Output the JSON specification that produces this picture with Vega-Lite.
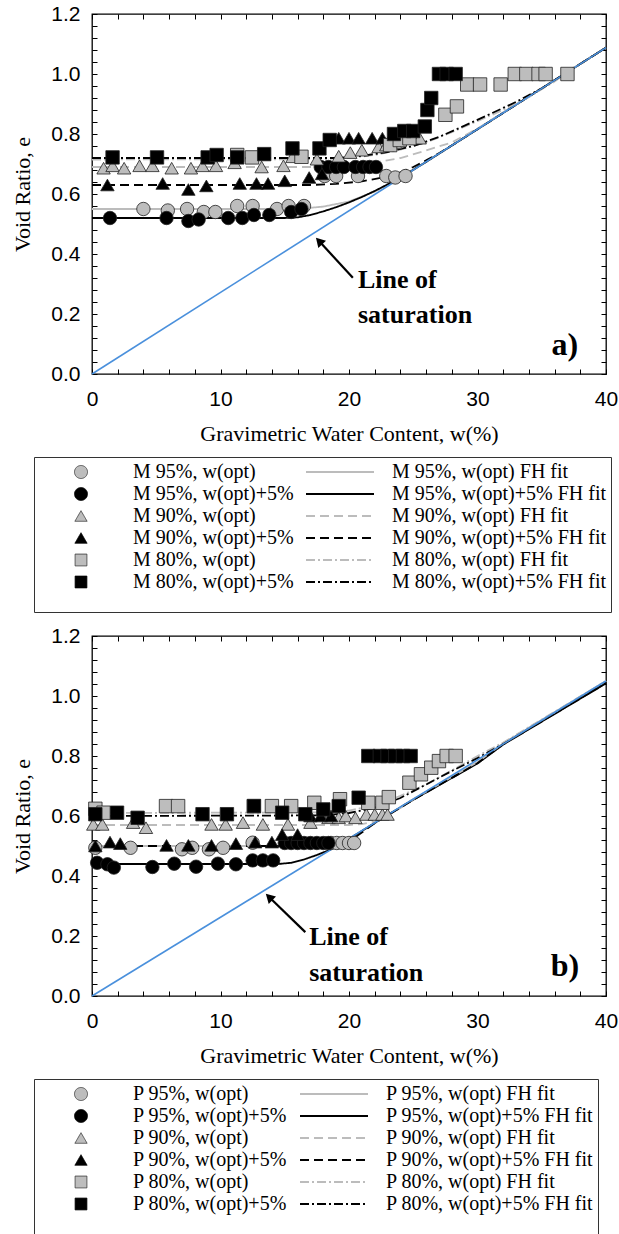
{
"$schema": "https://vega.github.io/schema/vega-lite/v6.json",
"padding": {"left": 11, "top": 2, "right": 0, "bottom": 0},
"spacing": 11,
"columns": 1,
"align": "none",
"datasets": {
"sat_a": [{"w":0,"e":0},{"w":40,"e":1.088}],
"sat_b": [{"w":0,"e":0},{"w":40,"e":1.05}],
"fit_a": [
{"s":"95 opt","w":0,"e":0.55},{"s":"95 opt","w":16,"e":0.55},{"s":"95 opt","w":18,"e":0.558},{"s":"95 opt","w":20,"e":0.575},{"s":"95 opt","w":22,"e":0.608},{"s":"95 opt","w":24,"e":0.652},{"s":"95 opt","w":26,"e":0.707},{"s":"95 opt","w":30,"e":0.816},{"s":"95 opt","w":40,"e":1.088},
{"s":"95 opt+5","w":0,"e":0.52},{"s":"95 opt+5","w":15,"e":0.52},{"s":"95 opt+5","w":16,"e":0.522},{"s":"95 opt+5","w":17,"e":0.53},{"s":"95 opt+5","w":18,"e":0.542},{"s":"95 opt+5","w":19,"e":0.556},{"s":"95 opt+5","w":20,"e":0.572},{"s":"95 opt+5","w":21,"e":0.59},{"s":"95 opt+5","w":22,"e":0.61},{"s":"95 opt+5","w":23,"e":0.632},{"s":"95 opt+5","w":24,"e":0.655},{"s":"95 opt+5","w":26,"e":0.707},{"s":"95 opt+5","w":30,"e":0.816},{"s":"95 opt+5","w":40,"e":1.088},
{"s":"90 opt","w":0,"e":0.69},{"s":"90 opt","w":18,"e":0.69},{"s":"90 opt","w":20,"e":0.695},{"s":"90 opt","w":22,"e":0.705},{"s":"90 opt","w":24,"e":0.72},{"s":"90 opt","w":26,"e":0.745},{"s":"90 opt","w":28,"e":0.772},{"s":"90 opt","w":30,"e":0.818},{"s":"90 opt","w":40,"e":1.088},
{"s":"90 opt+5","w":0,"e":0.63},{"s":"90 opt+5","w":17,"e":0.63},{"s":"90 opt+5","w":19,"e":0.634},{"s":"90 opt+5","w":21,"e":0.642},{"s":"90 opt+5","w":23,"e":0.658},{"s":"90 opt+5","w":24,"e":0.672},{"s":"90 opt+5","w":25,"e":0.69},{"s":"90 opt+5","w":26,"e":0.712},{"s":"90 opt+5","w":27,"e":0.736},{"s":"90 opt+5","w":28,"e":0.762},{"s":"90 opt+5","w":30,"e":0.816},{"s":"90 opt+5","w":40,"e":1.088},
{"s":"80 opt","w":0,"e":0.715},{"s":"80 opt","w":18,"e":0.716},{"s":"80 opt","w":20,"e":0.72},{"s":"80 opt","w":22,"e":0.73},{"s":"80 opt","w":24,"e":0.748},{"s":"80 opt","w":26,"e":0.772},{"s":"80 opt","w":28,"e":0.806},{"s":"80 opt","w":30,"e":0.843},{"s":"80 opt","w":32,"e":0.88},{"s":"80 opt","w":34,"e":0.923},{"s":"80 opt","w":36,"e":0.975},{"s":"80 opt","w":37,"e":1.006},{"s":"80 opt","w":40,"e":1.088},
{"s":"80 opt+5","w":0,"e":0.72},{"s":"80 opt+5","w":19,"e":0.72},{"s":"80 opt+5","w":21,"e":0.727},{"s":"80 opt+5","w":23,"e":0.74},{"s":"80 opt+5","w":25,"e":0.76},{"s":"80 opt+5","w":27,"e":0.79},{"s":"80 opt+5","w":29,"e":0.828},{"s":"80 opt+5","w":31,"e":0.867},{"s":"80 opt+5","w":33,"e":0.907},{"s":"80 opt+5","w":35,"e":0.952},{"s":"80 opt+5","w":36.5,"e":0.993},{"s":"80 opt+5","w":40,"e":1.088}
],
"fit_b": [
{"s":"95 opt","w":0,"e":0.5},{"s":"95 opt","w":17.5,"e":0.5},{"s":"95 opt","w":18.5,"e":0.503},{"s":"95 opt","w":19.5,"e":0.513},{"s":"95 opt","w":20.5,"e":0.537},{"s":"95 opt","w":22.5,"e":0.59},{"s":"95 opt","w":25,"e":0.656},{"s":"95 opt","w":30,"e":0.78},{"s":"95 opt","w":32,"e":0.842},{"s":"95 opt","w":40,"e":1.05},
{"s":"95 opt+5","w":0,"e":0.44},{"s":"95 opt+5","w":14.5,"e":0.44},{"s":"95 opt+5","w":15.5,"e":0.444},{"s":"95 opt+5","w":16.5,"e":0.455},{"s":"95 opt+5","w":17.5,"e":0.47},{"s":"95 opt+5","w":18.5,"e":0.487},{"s":"95 opt+5","w":19.5,"e":0.51},{"s":"95 opt+5","w":21,"e":0.55},{"s":"95 opt+5","w":22.5,"e":0.59},{"s":"95 opt+5","w":25,"e":0.654},{"s":"95 opt+5","w":30,"e":0.775},{"s":"95 opt+5","w":32,"e":0.838},{"s":"95 opt+5","w":40,"e":1.042},
{"s":"90 opt","w":0,"e":0.57},{"s":"90 opt","w":20,"e":0.57},{"s":"90 opt","w":21,"e":0.573},{"s":"90 opt","w":22,"e":0.582},{"s":"90 opt","w":23,"e":0.602},{"s":"90 opt","w":24,"e":0.627},{"s":"90 opt","w":25,"e":0.656},{"s":"90 opt","w":30,"e":0.78},{"s":"90 opt","w":32,"e":0.842},{"s":"90 opt","w":40,"e":1.05},
{"s":"90 opt+5","w":0,"e":0.5},{"s":"90 opt+5","w":18,"e":0.5},{"s":"90 opt+5","w":19,"e":0.503},{"s":"90 opt+5","w":20,"e":0.515},{"s":"90 opt+5","w":21,"e":0.545},{"s":"90 opt+5","w":22,"e":0.576},{"s":"90 opt+5","w":25,"e":0.654},{"s":"90 opt+5","w":30,"e":0.776},{"s":"90 opt+5","w":32,"e":0.84},{"s":"90 opt+5","w":40,"e":1.043},
{"s":"80 opt","w":0,"e":0.61},{"s":"80 opt","w":18,"e":0.612},{"s":"80 opt","w":20,"e":0.618},{"s":"80 opt","w":22,"e":0.636},{"s":"80 opt","w":24,"e":0.667},{"s":"80 opt","w":26,"e":0.705},{"s":"80 opt","w":28,"e":0.752},{"s":"80 opt","w":30,"e":0.8},{"s":"80 opt","w":32,"e":0.845},{"s":"80 opt","w":40,"e":1.05},
{"s":"80 opt+5","w":0,"e":0.6},{"s":"80 opt+5","w":18,"e":0.602},{"s":"80 opt+5","w":20,"e":0.61},{"s":"80 opt+5","w":22,"e":0.627},{"s":"80 opt+5","w":24,"e":0.66},{"s":"80 opt+5","w":26,"e":0.705},{"s":"80 opt+5","w":28,"e":0.75},{"s":"80 opt+5","w":30,"e":0.793},{"s":"80 opt+5","w":32,"e":0.84},{"s":"80 opt+5","w":40,"e":1.045}
],
"pts_a": [
{"s":"95 opt","w":4.0,"e":0.55},{"s":"95 opt","w":5.9,"e":0.545},{"s":"95 opt","w":7.4,"e":0.55},{"s":"95 opt","w":8.7,"e":0.54},{"s":"95 opt","w":9.6,"e":0.54},{"s":"95 opt","w":11.3,"e":0.56},{"s":"95 opt","w":12.5,"e":0.56},{"s":"95 opt","w":14.4,"e":0.55},{"s":"95 opt","w":15.3,"e":0.56},{"s":"95 opt","w":16.5,"e":0.56},{"s":"95 opt","w":18.1,"e":0.66},{"s":"95 opt","w":19.0,"e":0.66},{"s":"95 opt","w":20.7,"e":0.66},{"s":"95 opt","w":22.9,"e":0.66},{"s":"95 opt","w":23.6,"e":0.655},{"s":"95 opt","w":24.4,"e":0.66},
{"s":"95 opt+5","w":1.4,"e":0.52},{"s":"95 opt+5","w":5.8,"e":0.52},{"s":"95 opt+5","w":7.5,"e":0.51},{"s":"95 opt+5","w":8.3,"e":0.515},{"s":"95 opt+5","w":10.6,"e":0.52},{"s":"95 opt+5","w":11.7,"e":0.52},{"s":"95 opt+5","w":12.6,"e":0.53},{"s":"95 opt+5","w":13.8,"e":0.53},{"s":"95 opt+5","w":15.5,"e":0.54},{"s":"95 opt+5","w":16.3,"e":0.55},{"s":"95 opt+5","w":17.8,"e":0.69},{"s":"95 opt+5","w":18.4,"e":0.69},{"s":"95 opt+5","w":19.0,"e":0.69},{"s":"95 opt+5","w":19.6,"e":0.69},{"s":"95 opt+5","w":20.5,"e":0.69},{"s":"95 opt+5","w":21.1,"e":0.69},{"s":"95 opt+5","w":21.6,"e":0.69},{"s":"95 opt+5","w":22.1,"e":0.69},
{"s":"90 opt","w":0.9,"e":0.686},{"s":"90 opt","w":1.6,"e":0.694},{"s":"90 opt","w":2.5,"e":0.686},{"s":"90 opt","w":3.7,"e":0.694},{"s":"90 opt","w":4.7,"e":0.694},{"s":"90 opt","w":6.2,"e":0.686},{"s":"90 opt","w":7.7,"e":0.686},{"s":"90 opt","w":8.6,"e":0.694},{"s":"90 opt","w":9.65,"e":0.694},{"s":"90 opt","w":11.1,"e":0.704},{"s":"90 opt","w":13.2,"e":0.69},{"s":"90 opt","w":14.9,"e":0.694},{"s":"90 opt","w":15.6,"e":0.724},{"s":"90 opt","w":17.5,"e":0.716},{"s":"90 opt","w":19.2,"e":0.726},{"s":"90 opt","w":20.1,"e":0.738},{"s":"90 opt","w":21.0,"e":0.746},{"s":"90 opt","w":22.3,"e":0.757},{"s":"90 opt","w":22.9,"e":0.763},{"s":"90 opt","w":23.6,"e":0.77},{"s":"90 opt","w":24.6,"e":0.786},{"s":"90 opt","w":25.2,"e":0.786},{"s":"90 opt","w":25.5,"e":0.786},
{"s":"90 opt+5","w":1.2,"e":0.63},{"s":"90 opt+5","w":5.5,"e":0.635},{"s":"90 opt+5","w":7.5,"e":0.615},{"s":"90 opt+5","w":8.9,"e":0.627},{"s":"90 opt+5","w":11.5,"e":0.635},{"s":"90 opt+5","w":12.8,"e":0.635},{"s":"90 opt+5","w":13.7,"e":0.635},{"s":"90 opt+5","w":15.0,"e":0.644},{"s":"90 opt+5","w":16.9,"e":0.655},{"s":"90 opt+5","w":17.9,"e":0.667},{"s":"90 opt+5","w":19.2,"e":0.786},{"s":"90 opt+5","w":20.0,"e":0.786},{"s":"90 opt+5","w":20.75,"e":0.786},{"s":"90 opt+5","w":21.8,"e":0.786},{"s":"90 opt+5","w":22.6,"e":0.786},{"s":"90 opt+5","w":23.3,"e":0.79},
{"s":"80 opt","w":11.3,"e":0.73},{"s":"80 opt","w":12.45,"e":0.722},{"s":"80 opt","w":16.3,"e":0.724},{"s":"80 opt","w":23.2,"e":0.763},{"s":"80 opt","w":23.95,"e":0.78},{"s":"80 opt","w":24.7,"e":0.786},{"s":"80 opt","w":27.5,"e":0.864},{"s":"80 opt","w":28.4,"e":0.892},{"s":"80 opt","w":29.2,"e":0.965},{"s":"80 opt","w":30.2,"e":0.965},{"s":"80 opt","w":31.8,"e":0.965},{"s":"80 opt","w":32.9,"e":1.0},{"s":"80 opt","w":33.8,"e":1.0},{"s":"80 opt","w":34.75,"e":1.0},{"s":"80 opt","w":35.3,"e":1.0},{"s":"80 opt","w":37.0,"e":1.0},
{"s":"80 opt+5","w":1.6,"e":0.722},{"s":"80 opt+5","w":5.06,"e":0.722},{"s":"80 opt+5","w":9.0,"e":0.722},{"s":"80 opt+5","w":9.7,"e":0.73},{"s":"80 opt+5","w":11.3,"e":0.722},{"s":"80 opt+5","w":13.4,"e":0.733},{"s":"80 opt+5","w":15.6,"e":0.752},{"s":"80 opt+5","w":17.7,"e":0.752},{"s":"80 opt+5","w":18.5,"e":0.78},{"s":"80 opt+5","w":23.5,"e":0.8},{"s":"80 opt+5","w":24.3,"e":0.81},{"s":"80 opt+5","w":25.0,"e":0.81},{"s":"80 opt+5","w":25.9,"e":0.825},{"s":"80 opt+5","w":26.1,"e":0.88},{"s":"80 opt+5","w":26.4,"e":0.92},{"s":"80 opt+5","w":27.0,"e":1.0},{"s":"80 opt+5","w":27.6,"e":1.0},{"s":"80 opt+5","w":28.3,"e":1.0}
],
"pts_b": [
{"s":"95 opt","w":0.26,"e":0.494},{"s":"95 opt","w":3.0,"e":0.494},{"s":"95 opt","w":7.0,"e":0.489},{"s":"95 opt","w":7.8,"e":0.494},{"s":"95 opt","w":9.1,"e":0.489},{"s":"95 opt","w":10.2,"e":0.494},{"s":"95 opt","w":12.5,"e":0.511},{"s":"95 opt","w":18.6,"e":0.51},{"s":"95 opt","w":19.05,"e":0.51},{"s":"95 opt","w":19.5,"e":0.51},{"s":"95 opt","w":20.0,"e":0.51},{"s":"95 opt","w":20.4,"e":0.51},
{"s":"95 opt+5","w":0.4,"e":0.444},{"s":"95 opt+5","w":1.2,"e":0.439},{"s":"95 opt+5","w":1.7,"e":0.428},{"s":"95 opt+5","w":4.7,"e":0.43},{"s":"95 opt+5","w":6.4,"e":0.441},{"s":"95 opt+5","w":8.1,"e":0.431},{"s":"95 opt+5","w":9.8,"e":0.441},{"s":"95 opt+5","w":11.2,"e":0.439},{"s":"95 opt+5","w":12.5,"e":0.452},{"s":"95 opt+5","w":13.3,"e":0.452},{"s":"95 opt+5","w":14.1,"e":0.452},{"s":"95 opt+5","w":15.0,"e":0.51},{"s":"95 opt+5","w":15.5,"e":0.51},{"s":"95 opt+5","w":16.0,"e":0.51},{"s":"95 opt+5","w":16.5,"e":0.51},{"s":"95 opt+5","w":17.0,"e":0.51},{"s":"95 opt+5","w":17.5,"e":0.51},{"s":"95 opt+5","w":18.0,"e":0.51},{"s":"95 opt+5","w":18.4,"e":0.51},
{"s":"90 opt","w":0.1,"e":0.572},{"s":"90 opt","w":0.8,"e":0.572},{"s":"90 opt","w":3.2,"e":0.578},{"s":"90 opt","w":4.2,"e":0.561},{"s":"90 opt","w":9.3,"e":0.572},{"s":"90 opt","w":10.4,"e":0.572},{"s":"90 opt","w":11.75,"e":0.578},{"s":"90 opt","w":13.3,"e":0.572},{"s":"90 opt","w":15.25,"e":0.572},{"s":"90 opt","w":17.0,"e":0.578},{"s":"90 opt","w":18.4,"e":0.594},{"s":"90 opt","w":19.2,"e":0.594},{"s":"90 opt","w":19.75,"e":0.6},{"s":"90 opt","w":20.5,"e":0.594},{"s":"90 opt","w":21.35,"e":0.605},{"s":"90 opt","w":22.0,"e":0.605},{"s":"90 opt","w":22.6,"e":0.605},{"s":"90 opt","w":23.0,"e":0.605},
{"s":"90 opt+5","w":0.26,"e":0.5},{"s":"90 opt+5","w":1.4,"e":0.513},{"s":"90 opt+5","w":2.2,"e":0.508},{"s":"90 opt+5","w":5.8,"e":0.502},{"s":"90 opt+5","w":7.5,"e":0.502},{"s":"90 opt+5","w":9.3,"e":0.502},{"s":"90 opt+5","w":11.2,"e":0.508},{"s":"90 opt+5","w":12.7,"e":0.513},{"s":"90 opt+5","w":14.0,"e":0.513},{"s":"90 opt+5","w":14.8,"e":0.538},{"s":"90 opt+5","w":16.0,"e":0.538},{"s":"90 opt+5","w":17.0,"e":0.6},{"s":"90 opt+5","w":17.8,"e":0.6},{"s":"90 opt+5","w":18.6,"e":0.6},
{"s":"80 opt","w":0.26,"e":0.624},{"s":"80 opt","w":0.9,"e":0.611},{"s":"80 opt","w":5.76,"e":0.633},{"s":"80 opt","w":6.7,"e":0.633},{"s":"80 opt","w":12.6,"e":0.633},{"s":"80 opt","w":14.0,"e":0.633},{"s":"80 opt","w":15.5,"e":0.633},{"s":"80 opt","w":17.3,"e":0.644},{"s":"80 opt","w":19.3,"e":0.656},{"s":"80 opt","w":21.5,"e":0.644},{"s":"80 opt","w":22.6,"e":0.644},{"s":"80 opt","w":23.1,"e":0.663},{"s":"80 opt","w":24.7,"e":0.711},{"s":"80 opt","w":25.6,"e":0.739},{"s":"80 opt","w":26.4,"e":0.761},{"s":"80 opt","w":27.0,"e":0.783},{"s":"80 opt","w":27.6,"e":0.8},{"s":"80 opt","w":28.3,"e":0.8},
{"s":"80 opt+5","w":0.26,"e":0.606},{"s":"80 opt+5","w":1.95,"e":0.611},{"s":"80 opt+5","w":3.55,"e":0.594},{"s":"80 opt+5","w":8.6,"e":0.606},{"s":"80 opt+5","w":10.5,"e":0.606},{"s":"80 opt+5","w":12.6,"e":0.633},{"s":"80 opt+5","w":14.8,"e":0.611},{"s":"80 opt+5","w":16.6,"e":0.606},{"s":"80 opt+5","w":18.0,"e":0.622},{"s":"80 opt+5","w":19.2,"e":0.633},{"s":"80 opt+5","w":20.75,"e":0.661},{"s":"80 opt+5","w":21.5,"e":0.8},{"s":"80 opt+5","w":22.4,"e":0.8},{"s":"80 opt+5","w":23.0,"e":0.8},{"s":"80 opt+5","w":23.6,"e":0.8},{"s":"80 opt+5","w":24.2,"e":0.8},{"s":"80 opt+5","w":24.8,"e":0.8}
],
"arrow_a": [{"w":20.3,"e":0.321},{"w":17.67,"e":0.443}],
"arrow_b": [{"w":16.6,"e":0.213},{"w":13.78,"e":0.33}],
"lab_a": [{"t":"Line of","w":20.7,"e":0.314},{"t":"saturation","w":20.7,"e":0.197}],
"lab_b": [{"t":"Line of","w":16.9,"e":0.197},{"t":"saturation","w":16.9,"e":0.078}],
"tag_a": [{"t":"a)","w":36.8,"e":0.097}],
"tag_b": [{"t":"b)","w":36.8,"e":0.1}],
"leg_a": [{"label":"M 95%, w(opt)"},{"label":"M 95%, w(opt)+5%"},{"label":"M 90%, w(opt)"},{"label":"M 90%, w(opt)+5%"},{"label":"M 80%, w(opt)"},{"label":"M 80%, w(opt)+5%"},{"label":"M 95%, w(opt) FH fit"},{"label":"M 95%, w(opt)+5% FH fit"},{"label":"M 90%, w(opt) FH fit"},{"label":"M 90%, w(opt)+5% FH fit"},{"label":"M 80%, w(opt) FH fit"},{"label":"M 80%, w(opt)+5% FH fit"}],
"leg_b": [{"label":"P 95%, w(opt)"},{"label":"P 95%, w(opt)+5%"},{"label":"P 90%, w(opt)"},{"label":"P 90%, w(opt)+5%"},{"label":"P 80%, w(opt)"},{"label":"P 80%, w(opt)+5%"},{"label":"P 95%, w(opt) FH fit"},{"label":"P 95%, w(opt)+5% FH fit"},{"label":"P 90%, w(opt) FH fit"},{"label":"P 90%, w(opt)+5% FH fit"},{"label":"P 80%, w(opt) FH fit"},{"label":"P 80%, w(opt)+5% FH fit"}]
},
"resolve": {
"scale": {"shape":"independent","fill":"independent","stroke":"independent","strokeDash":"independent","size":"independent","strokeWidth":"independent"},
"legend": {"shape":"independent","fill":"independent","stroke":"independent","strokeDash":"independent","size":"independent","strokeWidth":"independent"}
},
"concat": [
{
"width": 514, "height": 360,
"resolve": {"axis": {"x": "independent", "y": "independent"}},
"encoding": {
"x": {"field": "w", "type": "quantitative", "scale": {"domain": [0, 40], "nice": false}, "axis": null},
"y": {"field": "e", "type": "quantitative", "scale": {"domain": [0, 1.2], "nice": false}, "axis": null}
},
"layer": [
{"data": {"name": "fit_a"}, "mark": {"type": "line", "strokeWidth": 1.8},
"encoding": {
"x": {"field": "w", "type": "quantitative", "scale": {"domain": [0, 40], "nice": false},
"axis": {"orient": "bottom", "values": [0,2,4,6,8,10,12,14,16,18,20,22,24,26,28,30,32,34,36,38,40], "labelExpr": "datum.value % 10 === 0 ? datum.label : ''", "labelOverlap": false, "labelFlush": false, "tickSize": -5, "labelPadding": 19, "title": "Gravimetric Water Content, w(%)", "titlePadding": 14}},
"y": {"field": "e", "type": "quantitative", "scale": {"domain": [0, 1.2], "nice": false},
"axis": {"orient": "left", "values": [0,0.04,0.08,0.12,0.16,0.2,0.24,0.28,0.32,0.36,0.4,0.44,0.48,0.52,0.56,0.6,0.64,0.68,0.72,0.76,0.8,0.84,0.88,0.92,0.96,1,1.04,1.08,1.12,1.16,1.2], "labelExpr": "abs(round(datum.value*100) % 20) < 0.5 ? format(datum.value, '.1f') : ''", "labelOverlap": false, "labelFlush": false, "tickSize": -5, "labelPadding": 17, "title": "Void Ratio, e", "titlePadding": 16}},
"stroke": {"field": "s", "type": "nominal", "legend": null, "scale": {"domain": ["95 opt","95 opt+5","90 opt","90 opt+5","80 opt","80 opt+5"], "range": ["#bcbcbc","#000000","#bcbcbc","#000000","#bcbcbc","#000000"]}},
"strokeDash": {"field": "s", "type": "nominal", "legend": null, "scale": {"domain": ["95 opt","95 opt+5","90 opt","90 opt+5","80 opt","80 opt+5"], "range": [[1,0],[1,0],[9,5],[9,5],[9,3,2,3],[9,3,2,3]]}}
}},
{"data": {"name": "sat_a"}, "mark": {"type": "line", "color": "#4a90dc", "strokeWidth": 1.6},
"encoding": {
"x": {"field": "w", "type": "quantitative", "scale": {"domain": [0, 40], "nice": false},
"axis": {"orient": "top", "values": [0,2,4,6,8,10,12,14,16,18,20,22,24,26,28,30,32,34,36,38,40], "labels": false, "tickSize": -5, "title": null}},
"y": {"field": "e", "type": "quantitative", "scale": {"domain": [0, 1.2], "nice": false},
"axis": {"orient": "right", "values": [0,0.04,0.08,0.12,0.16,0.2,0.24,0.28,0.32,0.36,0.4,0.44,0.48,0.52,0.56,0.6,0.64,0.68,0.72,0.76,0.8,0.84,0.88,0.92,0.96,1,1.04,1.08,1.12,1.16,1.2], "labels": false, "tickSize": -5, "title": null}}
}},
{"data": {"name": "pts_a"}, "mark": {"type": "point", "filled": true, "opacity": 1, "size": 180, "stroke": "#222222", "strokeWidth": 0.8},
"encoding": {
"shape": {"field": "s", "type": "nominal", "legend": null, "scale": {"domain": ["95 opt","95 opt+5","90 opt","90 opt+5","80 opt","80 opt+5"], "range": ["circle","circle","triangle-up","triangle-up","square","square"]}},
"fill": {"field": "s", "type": "nominal", "legend": null, "scale": {"domain": ["95 opt","95 opt+5","90 opt","90 opt+5","80 opt","80 opt+5"], "range": ["#bdbdbd","#000000","#bdbdbd","#000000","#bdbdbd","#000000"]}}
}},
{"data": {"name": "arrow_a"}, "mark": {"type": "line", "color": "black", "strokeWidth": 2.2}, "encoding": {}},
{"data": {"name": "arrow_a"}, "transform": [{"filter": "datum.w < 19"}], "mark": {"type": "point", "shape": "triangle-up", "filled": true, "color": "black", "opacity": 1, "size": 110, "angle": 317}, "encoding": {}},
{"data": {"name": "lab_a"}, "mark": {"type": "text", "font": "Liberation Serif", "fontWeight": "bold", "fontSize": 26, "align": "left", "baseline": "middle", "color": "black"}, "encoding": {"text": {"field": "t"}}},
{"data": {"name": "tag_a"}, "mark": {"type": "text", "font": "Liberation Serif", "fontWeight": "bold", "fontSize": 32, "align": "center", "baseline": "middle", "color": "black"}, "encoding": {"text": {"field": "t"}}}
]
},
{
"width": 514, "height": 155,
"view": {"stroke": null},
"data": {"name": "leg_a"},
"mark": {"type": "point", "filled": true, "opacity": 0},
"encoding": {
"shape": {"field": "label", "type": "nominal", "legend": {"title": " "}, "scale": {"domain": ["M 95%, w(opt)","M 95%, w(opt)+5%","M 90%, w(opt)","M 90%, w(opt)+5%","M 80%, w(opt)","M 80%, w(opt)+5%","M 95%, w(opt) FH fit","M 95%, w(opt)+5% FH fit","M 90%, w(opt) FH fit","M 90%, w(opt)+5% FH fit","M 80%, w(opt) FH fit","M 80%, w(opt)+5% FH fit"], "range": ["circle","circle","triangle-up","triangle-up","square","square","stroke","stroke","stroke","stroke","stroke","stroke"]}},
"fill": {"field": "label", "type": "nominal", "legend": {"title": " "}, "scale": {"domain": ["M 95%, w(opt)","M 95%, w(opt)+5%","M 90%, w(opt)","M 90%, w(opt)+5%","M 80%, w(opt)","M 80%, w(opt)+5%","M 95%, w(opt) FH fit","M 95%, w(opt)+5% FH fit","M 90%, w(opt) FH fit","M 90%, w(opt)+5% FH fit","M 80%, w(opt) FH fit","M 80%, w(opt)+5% FH fit"], "range": ["#bdbdbd","#000000","#bdbdbd","#000000","#bdbdbd","#000000","transparent","transparent","transparent","transparent","transparent","transparent"]}},
"stroke": {"field": "label", "type": "nominal", "legend": {"title": " "}, "scale": {"domain": ["M 95%, w(opt)","M 95%, w(opt)+5%","M 90%, w(opt)","M 90%, w(opt)+5%","M 80%, w(opt)","M 80%, w(opt)+5%","M 95%, w(opt) FH fit","M 95%, w(opt)+5% FH fit","M 90%, w(opt) FH fit","M 90%, w(opt)+5% FH fit","M 80%, w(opt) FH fit","M 80%, w(opt)+5% FH fit"], "range": ["#333333","#000000","#333333","#000000","#333333","#000000","#bcbcbc","#000000","#bcbcbc","#000000","#bcbcbc","#000000"]}},
"strokeDash": {"field": "label", "type": "nominal", "legend": {"title": " "}, "scale": {"domain": ["M 95%, w(opt)","M 95%, w(opt)+5%","M 90%, w(opt)","M 90%, w(opt)+5%","M 80%, w(opt)","M 80%, w(opt)+5%","M 95%, w(opt) FH fit","M 95%, w(opt)+5% FH fit","M 90%, w(opt) FH fit","M 90%, w(opt)+5% FH fit","M 80%, w(opt) FH fit","M 80%, w(opt)+5% FH fit"], "range": [[1,0],[1,0],[1,0],[1,0],[1,0],[1,0],[1,0],[1,0],[9,5],[9,5],[9,3,2,3],[9,3,2,3]]}},
"size": {"field": "label", "type": "nominal", "legend": {"title": " "}, "scale": {"type": "ordinal", "domain": ["M 95%, w(opt)","M 95%, w(opt)+5%","M 90%, w(opt)","M 90%, w(opt)+5%","M 80%, w(opt)","M 80%, w(opt)+5%","M 95%, w(opt) FH fit","M 95%, w(opt)+5% FH fit","M 90%, w(opt) FH fit","M 90%, w(opt)+5% FH fit","M 80%, w(opt) FH fit","M 80%, w(opt)+5% FH fit"], "range": [170,170,150,150,140,140,4624,4624,4624,4624,4624,4624]}},
"strokeWidth": {"field": "label", "type": "nominal", "legend": {"title": " "}, "scale": {"type": "ordinal", "domain": ["M 95%, w(opt)","M 95%, w(opt)+5%","M 90%, w(opt)","M 90%, w(opt)+5%","M 80%, w(opt)","M 80%, w(opt)+5%","M 95%, w(opt) FH fit","M 95%, w(opt)+5% FH fit","M 90%, w(opt) FH fit","M 90%, w(opt)+5% FH fit","M 80%, w(opt) FH fit","M 80%, w(opt)+5% FH fit"], "range": [0.8,0.8,0.8,0.8,0.8,0.8,2,2,2,2,2,2]}}
}
},
{
"width": 514, "height": 360,
"resolve": {"axis": {"x": "independent", "y": "independent"}},
"encoding": {
"x": {"field": "w", "type": "quantitative", "scale": {"domain": [0, 40], "nice": false}, "axis": null},
"y": {"field": "e", "type": "quantitative", "scale": {"domain": [0, 1.2], "nice": false}, "axis": null}
},
"layer": [
{"data": {"name": "fit_b"}, "mark": {"type": "line", "strokeWidth": 1.8},
"encoding": {
"x": {"field": "w", "type": "quantitative", "scale": {"domain": [0, 40], "nice": false},
"axis": {"orient": "bottom", "values": [0,2,4,6,8,10,12,14,16,18,20,22,24,26,28,30,32,34,36,38,40], "labelExpr": "datum.value % 10 === 0 ? datum.label : ''", "labelOverlap": false, "labelFlush": false, "tickSize": -5, "labelPadding": 19, "title": "Gravimetric Water Content, w(%)", "titlePadding": 14}},
"y": {"field": "e", "type": "quantitative", "scale": {"domain": [0, 1.2], "nice": false},
"axis": {"orient": "left", "values": [0,0.04,0.08,0.12,0.16,0.2,0.24,0.28,0.32,0.36,0.4,0.44,0.48,0.52,0.56,0.6,0.64,0.68,0.72,0.76,0.8,0.84,0.88,0.92,0.96,1,1.04,1.08,1.12,1.16,1.2], "labelExpr": "abs(round(datum.value*100) % 20) < 0.5 ? format(datum.value, '.1f') : ''", "labelOverlap": false, "labelFlush": false, "tickSize": -5, "labelPadding": 17, "title": "Void Ratio, e", "titlePadding": 16}},
"stroke": {"field": "s", "type": "nominal", "legend": null, "scale": {"domain": ["95 opt","95 opt+5","90 opt","90 opt+5","80 opt","80 opt+5"], "range": ["#bcbcbc","#000000","#bcbcbc","#000000","#bcbcbc","#000000"]}},
"strokeDash": {"field": "s", "type": "nominal", "legend": null, "scale": {"domain": ["95 opt","95 opt+5","90 opt","90 opt+5","80 opt","80 opt+5"], "range": [[1,0],[1,0],[9,5],[9,5],[9,3,2,3],[9,3,2,3]]}}
}},
{"data": {"name": "sat_b"}, "mark": {"type": "line", "color": "#4a90dc", "strokeWidth": 1.6},
"encoding": {
"x": {"field": "w", "type": "quantitative", "scale": {"domain": [0, 40], "nice": false},
"axis": {"orient": "top", "values": [0,2,4,6,8,10,12,14,16,18,20,22,24,26,28,30,32,34,36,38,40], "labels": false, "tickSize": -5, "title": null}},
"y": {"field": "e", "type": "quantitative", "scale": {"domain": [0, 1.2], "nice": false},
"axis": {"orient": "right", "values": [0,0.04,0.08,0.12,0.16,0.2,0.24,0.28,0.32,0.36,0.4,0.44,0.48,0.52,0.56,0.6,0.64,0.68,0.72,0.76,0.8,0.84,0.88,0.92,0.96,1,1.04,1.08,1.12,1.16,1.2], "labels": false, "tickSize": -5, "title": null}}
}},
{"data": {"name": "pts_b"}, "mark": {"type": "point", "filled": true, "opacity": 1, "size": 180, "stroke": "#222222", "strokeWidth": 0.8},
"encoding": {
"shape": {"field": "s", "type": "nominal", "legend": null, "scale": {"domain": ["95 opt","95 opt+5","90 opt","90 opt+5","80 opt","80 opt+5"], "range": ["circle","circle","triangle-up","triangle-up","square","square"]}},
"fill": {"field": "s", "type": "nominal", "legend": null, "scale": {"domain": ["95 opt","95 opt+5","90 opt","90 opt+5","80 opt","80 opt+5"], "range": ["#bdbdbd","#000000","#bdbdbd","#000000","#bdbdbd","#000000"]}}
}},
{"data": {"name": "arrow_b"}, "mark": {"type": "line", "color": "black", "strokeWidth": 2.2}, "encoding": {}},
{"data": {"name": "arrow_b"}, "transform": [{"filter": "datum.w < 15"}], "mark": {"type": "point", "shape": "triangle-up", "filled": true, "color": "black", "opacity": 1, "size": 110, "angle": 314}, "encoding": {}},
{"data": {"name": "lab_b"}, "mark": {"type": "text", "font": "Liberation Serif", "fontWeight": "bold", "fontSize": 26, "align": "left", "baseline": "middle", "color": "black"}, "encoding": {"text": {"field": "t"}}},
{"data": {"name": "tag_b"}, "mark": {"type": "text", "font": "Liberation Serif", "fontWeight": "bold", "fontSize": 32, "align": "center", "baseline": "middle", "color": "black"}, "encoding": {"text": {"field": "t"}}}
]
},
{
"width": 514, "height": 155,
"view": {"stroke": null},
"data": {"name": "leg_b"},
"mark": {"type": "point", "filled": true, "opacity": 0},
"encoding": {
"shape": {"field": "label", "type": "nominal", "legend": {"title": " "}, "scale": {"domain": ["P 95%, w(opt)","P 95%, w(opt)+5%","P 90%, w(opt)","P 90%, w(opt)+5%","P 80%, w(opt)","P 80%, w(opt)+5%","P 95%, w(opt) FH fit","P 95%, w(opt)+5% FH fit","P 90%, w(opt) FH fit","P 90%, w(opt)+5% FH fit","P 80%, w(opt) FH fit","P 80%, w(opt)+5% FH fit"], "range": ["circle","circle","triangle-up","triangle-up","square","square","stroke","stroke","stroke","stroke","stroke","stroke"]}},
"fill": {"field": "label", "type": "nominal", "legend": {"title": " "}, "scale": {"domain": ["P 95%, w(opt)","P 95%, w(opt)+5%","P 90%, w(opt)","P 90%, w(opt)+5%","P 80%, w(opt)","P 80%, w(opt)+5%","P 95%, w(opt) FH fit","P 95%, w(opt)+5% FH fit","P 90%, w(opt) FH fit","P 90%, w(opt)+5% FH fit","P 80%, w(opt) FH fit","P 80%, w(opt)+5% FH fit"], "range": ["#bdbdbd","#000000","#bdbdbd","#000000","#bdbdbd","#000000","transparent","transparent","transparent","transparent","transparent","transparent"]}},
"stroke": {"field": "label", "type": "nominal", "legend": {"title": " "}, "scale": {"domain": ["P 95%, w(opt)","P 95%, w(opt)+5%","P 90%, w(opt)","P 90%, w(opt)+5%","P 80%, w(opt)","P 80%, w(opt)+5%","P 95%, w(opt) FH fit","P 95%, w(opt)+5% FH fit","P 90%, w(opt) FH fit","P 90%, w(opt)+5% FH fit","P 80%, w(opt) FH fit","P 80%, w(opt)+5% FH fit"], "range": ["#333333","#000000","#333333","#000000","#333333","#000000","#bcbcbc","#000000","#bcbcbc","#000000","#bcbcbc","#000000"]}},
"strokeDash": {"field": "label", "type": "nominal", "legend": {"title": " "}, "scale": {"domain": ["P 95%, w(opt)","P 95%, w(opt)+5%","P 90%, w(opt)","P 90%, w(opt)+5%","P 80%, w(opt)","P 80%, w(opt)+5%","P 95%, w(opt) FH fit","P 95%, w(opt)+5% FH fit","P 90%, w(opt) FH fit","P 90%, w(opt)+5% FH fit","P 80%, w(opt) FH fit","P 80%, w(opt)+5% FH fit"], "range": [[1,0],[1,0],[1,0],[1,0],[1,0],[1,0],[1,0],[1,0],[9,5],[9,5],[9,3,2,3],[9,3,2,3]]}},
"size": {"field": "label", "type": "nominal", "legend": {"title": " "}, "scale": {"type": "ordinal", "domain": ["P 95%, w(opt)","P 95%, w(opt)+5%","P 90%, w(opt)","P 90%, w(opt)+5%","P 80%, w(opt)","P 80%, w(opt)+5%","P 95%, w(opt) FH fit","P 95%, w(opt)+5% FH fit","P 90%, w(opt) FH fit","P 90%, w(opt)+5% FH fit","P 80%, w(opt) FH fit","P 80%, w(opt)+5% FH fit"], "range": [170,170,150,150,140,140,4624,4624,4624,4624,4624,4624]}},
"strokeWidth": {"field": "label", "type": "nominal", "legend": {"title": " "}, "scale": {"type": "ordinal", "domain": ["P 95%, w(opt)","P 95%, w(opt)+5%","P 90%, w(opt)","P 90%, w(opt)+5%","P 80%, w(opt)","P 80%, w(opt)+5%","P 95%, w(opt) FH fit","P 95%, w(opt)+5% FH fit","P 90%, w(opt) FH fit","P 90%, w(opt)+5% FH fit","P 80%, w(opt) FH fit","P 80%, w(opt)+5% FH fit"], "range": [0.8,0.8,0.8,0.8,0.8,0.8,2,2,2,2,2,2]}}
}
}
],
"config": {
"font": "Liberation Sans",
"view": {"stroke": "black", "strokeWidth": 1.3},
"axis": {"labelFont": "Liberation Sans", "labelFontSize": 21, "labelColor": "black", "titleFont": "Liberation Serif", "titleFontSize": 22, "titleFontWeight": "normal", "titleColor": "black", "tickColor": "black", "tickWidth": 1, "grid": false, "domain": false},
"legend": {"orient": "none", "legendX": -58, "legendY": 0, "columns": 2, "titleOrient": "bottom", "titleAnchor": "start", "titleFontSize": 1, "titlePadding": 14, "labelFont": "Liberation Serif", "labelFontSize": 20, "labelColor": "black", "labelLimit": 400, "labelOffset": 17, "symbolOffset": 8, "columnPadding": 3, "rowPadding": 0, "clipHeight": 22, "symbolOpacity": 1, "strokeColor": "#333333", "padding": 4}
}
}
